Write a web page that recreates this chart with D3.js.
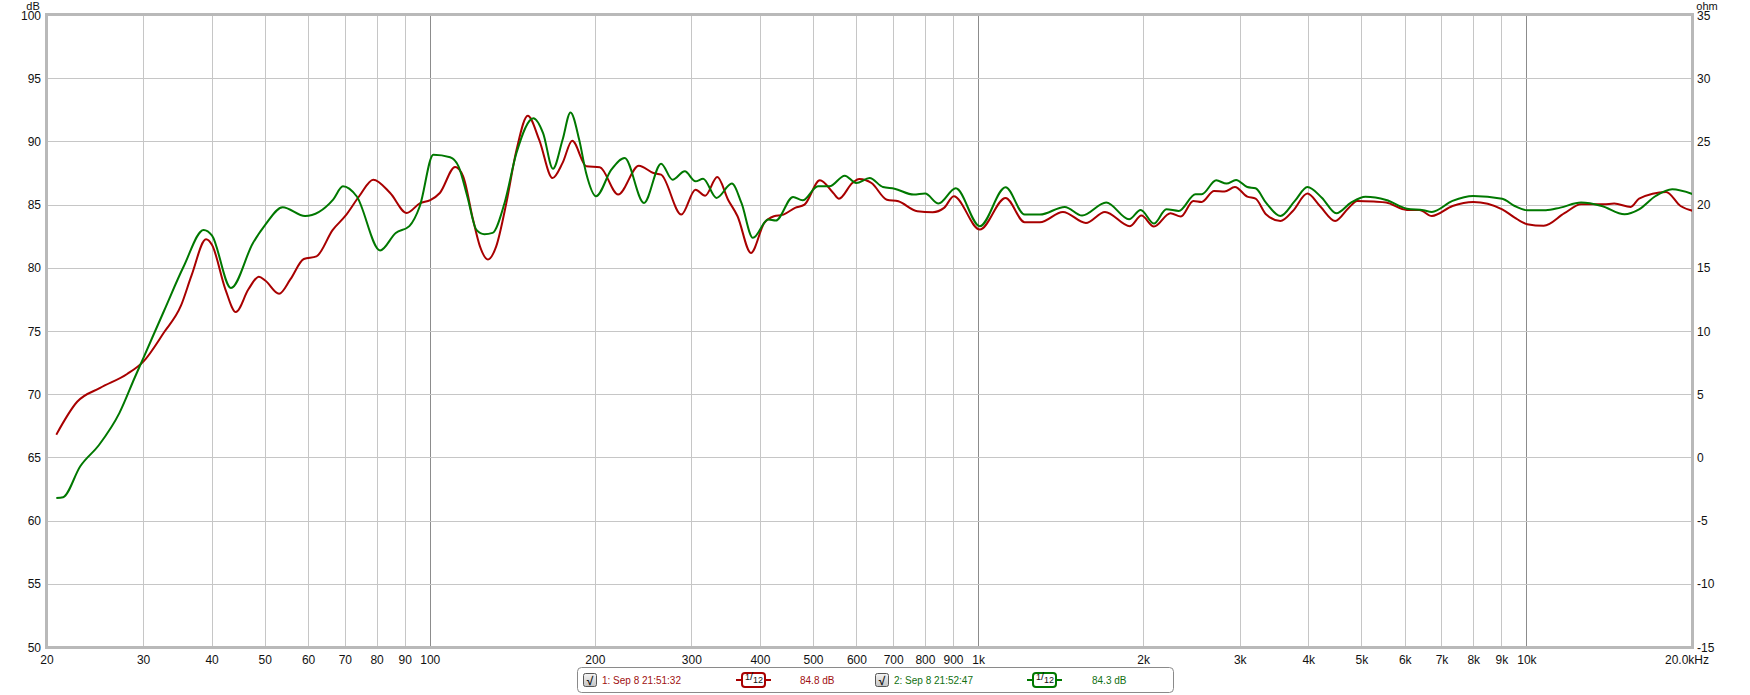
<!DOCTYPE html>
<html><head><meta charset="utf-8">
<script src="https://cdn.jsdelivr.net/npm/d3@7"></script>
<style>
body{margin:0;background:#fff;}
text{font-family:"Liberation Sans",Arial,sans-serif;}
</style>
</head><body>
<svg id="chart" width="1750" height="695"></svg>
<script>
// ---- data ----
const xTicks = [20,30,40,50,60,70,80,90,100,200,300,400,500,600,700,800,900,1000,2000,3000,4000,5000,6000,7000,8000,9000,10000,20000];
const xTickLabels = ["20","30","40","50","60","70","80","90","100","200","300","400","500","600","700","800","900","1k","2k","3k","4k","5k","6k","7k","8k","9k","10k","20.0kHz"];
const decadeTicks = [100,1000,10000];
const dbTicks = [50,55,60,65,70,75,80,85,90,95,100];
const ohmTicks = [-15,-10,-5,0,5,10,15,20,25,30,35];

const redFreq = [20.8,22.7,25.0,28.0,30.0,32.7,35.1,36.7,39.0,40.0,42.3,44.2,46.6,48.7,50.0,53.0,55.6,58.8,62.0,66.4,70.0,74.3,78.7,84.5,90.6,95.7,100,104.1,111.0,114.8,119.7,123.2,127.4,131.9,137.6,143.6,150.6,158.0,167.1,174.3,181.5,192.6,203.8,220.1,240.1,255.2,263.6,287.0,304.6,317.2,333.8,349.2,363.4,384.4,406.6,423.4,440.6,462.6,481.4,513.5,543.2,556.4,588.4,605.8,637.8,680.2,714,773,824.8,865,901,1005,1120,1213,1294,1425,1569,1700,1888,1981,2088,2238,2338,2464,2552,2688,2808,2934,3090,3200,3342,3552,3742,3978,4192,4470,4734,4902,5256,5538,6040,6366,6708,7316,7980,9014,9498,10008,10732,11708,12552,13812,14428,15466,16014,17938,19060,20084];
const redDb = [66.8,69.4,70.5,71.6,72.6,74.9,77.0,79.4,82.25,81.8,78.3,76.5,78.3,79.3,79.0,77.95,79.1,80.7,80.9,83.0,84.1,85.7,86.97,85.92,84.34,85.1,85.35,85.92,87.97,87.24,83.8,81.7,80.66,81.7,85.1,89.3,92.03,90.13,87.1,88.3,90.05,88.03,87.95,85.8,88.08,87.5,87.37,84.21,86.18,85.71,87.18,85.39,84.08,81.18,83.55,84.08,84.21,84.74,85.0,86.92,85.92,85.47,86.71,87.03,86.71,85.39,85.26,84.47,84.4,84.74,85.66,83.03,85.53,83.61,83.61,84.42,83.55,84.42,83.29,84.13,83.26,84.32,84.05,85.29,85.21,86.08,86.03,86.39,85.63,85.47,84.24,83.71,84.5,85.87,84.89,83.71,84.76,85.29,85.24,85.16,84.58,84.58,84.1,84.89,85.21,84.63,83.97,83.45,83.32,84.32,85.03,85.03,85.08,84.82,85.47,86.0,84.89,84.5];

const greenFreq = [20.8,21.4,23.0,24.9,27.1,28.9,30.0,32.7,35.5,38.6,40.0,43.3,47.5,50.0,53.8,59.1,66.5,69.3,73.4,81.0,86.5,91.6,95.7,101.3,108.7,112.6,116.8,121.4,125.5,129.9,136.6,143.6,154.2,160.6,167.4,174.3,180.2,186.9,192.4,200.6,213.9,226.2,245.3,263.6,276.5,291.2,304.6,314.5,332.7,354.8,369.4,387.6,413.3,426.7,458.8,477.6,509.4,534.6,570,598.2,632.8,669.2,702.4,761.4,798.8,845,908.6,1005,1120,1213,1294,1436,1544,1709,1881,1975,2088,2200,2318,2486,2552,2712,2832,2948,3090,3200,3342,3552,3774,3978,4226,4492,4776,5076,5538,6040,6476,6708,7316,7980,9014,9498,10008,10826,11504,12552,13692,15068,16014,17170,18408,20084];
const greenDb = [61.78,61.85,64.3,66.0,68.5,71.3,72.9,76.6,80.1,83.0,82.55,78.4,81.97,83.4,84.8,84.1,85.4,86.45,85.66,81.37,82.76,83.3,84.87,88.95,88.75,88.03,85.66,83.0,82.66,82.76,85.13,89.08,91.84,90.66,87.84,90.13,92.29,90.13,87.5,85.66,87.76,88.68,85.13,88.24,86.97,87.63,86.84,87.05,85.53,86.66,85.13,82.37,83.82,83.74,85.61,85.34,86.45,86.45,87.29,86.71,87.1,86.39,86.26,85.79,85.87,85.08,86.29,83.29,86.37,84.21,84.21,84.82,84.13,85.16,83.84,84.58,83.5,84.63,84.5,85.82,85.82,86.92,86.66,86.95,86.39,86.29,85.16,84.1,85.29,86.39,85.55,84.32,85.16,85.63,85.37,84.68,84.55,84.42,85.29,85.68,85.47,84.89,84.55,84.55,84.76,85.16,84.89,84.24,84.63,85.68,86.21,85.82];

const legendNames = ["1: Sep 8 21:51:32","2: Sep 8 21:52:47"];
const legendLevels = ["84.8 dB","84.3 dB"];
const smoothingLabel = ["1","12"];

// ---- layout ----
const L = 47, R = 1692, T = 15, B = 647;
const RED = "#a80000", GREEN = "#007800";

const svg = d3.select("#chart");
const x = d3.scaleLog().domain([20,20000]).range([L,R]);
const y = d3.scaleLinear().domain([50,100]).range([B,T]);
const yOhm = d3.scaleLinear().domain([-15,35]).range([B,T]);

// gridlines
const grid = svg.append("g");
grid.selectAll("line.v").data(xTicks).join("line")
  .attr("x1", d=>x(d)).attr("x2", d=>x(d)).attr("y1", T).attr("y2", B)
  .attr("stroke", d=> decadeTicks.includes(d) ? "#8c8c8c" : "#c6c6c6")
  .attr("stroke-width", 1).attr("shape-rendering","crispEdges");
grid.selectAll("line.h").data(dbTicks).join("line")
  .attr("x1", L).attr("x2", R).attr("y1", d=>Math.round(y(d))+0.5).attr("y2", d=>Math.round(y(d))+0.5)
  .attr("stroke", "#c6c6c6").attr("stroke-width", 1);

// frame
svg.append("rect").attr("x", L-0.5).attr("y", T-0.5).attr("width", R-L+1).attr("height", B-T+1)
  .attr("fill","none").attr("stroke","#b9b9b9").attr("stroke-width",3);

// axes labels
const fontSize = 12;
svg.append("g").selectAll("text").data(dbTicks).join("text")
  .attr("x", 41).attr("y", d=>y(d)+4.5).attr("text-anchor","end")
  .attr("font-size", fontSize).attr("fill","#111").text(d=>d);
svg.append("text").attr("x", 33).attr("y", 9.5).attr("text-anchor","middle").attr("font-size",11).attr("fill","#111").text("dB");
svg.append("g").selectAll("text").data(ohmTicks).join("text")
  .attr("x", 1697).attr("y", d=>yOhm(d)+4.5).attr("text-anchor","start")
  .attr("font-size", fontSize).attr("fill","#111").text(d=>d);
svg.append("text").attr("x", 1707).attr("y", 9.5).attr("text-anchor","middle").attr("font-size",11).attr("fill","#111").text("ohm");
svg.append("g").selectAll("text").data(xTicks).join("text")
  .attr("x", (d,i)=> x(d) + (i===xTicks.length-1 ? -5 : 0)).attr("y", 664)
  .attr("text-anchor","middle").attr("font-size",fontSize).attr("fill","#111")
  .text((d,i)=>xTickLabels[i]);

// curves
const line = d3.line().x(d=>x(d[0])).y(d=>y(d[1])).curve(d3.curveMonotoneX);
const redData = redFreq.map((f,i)=>[f, redDb[i]]);
const greenData = greenFreq.map((f,i)=>[f, greenDb[i]]);
svg.append("clipPath").attr("id","pc").append("rect").attr("x",L).attr("y",T).attr("width",R-L).attr("height",B-T);
const curves = svg.append("g").attr("clip-path","url(#pc)");
curves.append("path").datum(redData).attr("d", line).attr("fill","none").attr("stroke",RED).attr("stroke-width",2);
curves.append("path").datum(greenData).attr("d", line).attr("fill","none").attr("stroke",GREEN).attr("stroke-width",2);

// legend
const leg = svg.append("g");
leg.append("rect").attr("x",577.5).attr("y",667.5).attr("width",596).attr("height",25).attr("rx",4)
  .attr("fill","#fff").attr("stroke","#8a8a8a").attr("stroke-width",1);
const defs = svg.append("defs");
const gr = defs.append("linearGradient").attr("id","cb").attr("x1",0).attr("y1",0).attr("x2",0).attr("y2",1);
gr.append("stop").attr("offset","0%").attr("stop-color","#f4f4f4");
gr.append("stop").attr("offset","100%").attr("stop-color","#c4c4c4");
const entries = [
  {cb:583, name:602, icon:742, lvl:800, color:"#a01010", stroke:RED},
  {cb:875, name:894, icon:1033, lvl:1092, color:"#107010", stroke:GREEN}
];
entries.forEach((e,i)=>{
  leg.append("rect").attr("x",e.cb+0.5).attr("y",673.5).attr("width",13).attr("height",13).attr("rx",2)
    .attr("fill","url(#cb)").attr("stroke","#555").attr("stroke-width",1);
  leg.append("text").attr("x",e.cb+7).attr("y",685).attr("text-anchor","middle").attr("font-size",12)
    .attr("font-weight","bold").attr("fill","#111").text("√");
  leg.append("text").attr("x",e.name).attr("y",684).attr("font-size",10).attr("fill",e.color).text(legendNames[i]);
  leg.append("line").attr("x1",e.icon-6).attr("x2",e.icon+29).attr("y1",680).attr("y2",680).attr("stroke",e.stroke).attr("stroke-width",2);
  leg.append("rect").attr("x",e.icon).attr("y",673).attr("width",23).attr("height",14).attr("rx",3)
    .attr("fill","#fff").attr("stroke",e.stroke).attr("stroke-width",2);
  const t = leg.append("text").attr("x",e.icon+3).attr("y",682).attr("font-size",9).attr("fill","#111");
  t.append("tspan").attr("dy",-2).text(smoothingLabel[0]);
  t.append("tspan").attr("dy",0).attr("font-size",11).text("/");
  t.append("tspan").attr("dy",3).text(smoothingLabel[1]);
  leg.append("text").attr("x",e.lvl).attr("y",684).attr("font-size",10).attr("fill",e.color).text(legendLevels[i]);
});
</script>
</body></html>
